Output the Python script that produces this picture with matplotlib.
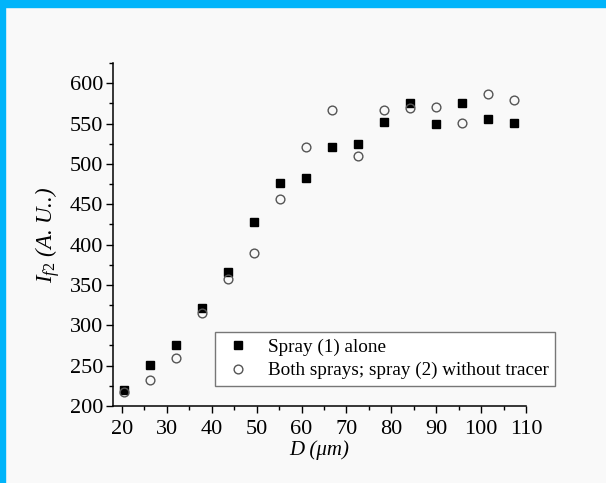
import matplotlib
matplotlib.use("Agg")
from matplotlib import pyplot as plt
from matplotlib.patches import Rectangle
from matplotlib.ticker import MultipleLocator

# droplet diameter (um)
diameter = [20.4, 26.2, 32.0, 37.8, 43.6, 49.4, 55.2, 61.0,
            66.8, 72.6, 78.4, 84.2, 90.0, 95.8, 101.6, 107.4]

# fluorescence intensity, arbitrary units
spray1_alone = [220, 251, 276, 322, 366, 428, 476, 482,
                521, 525, 552, 576, 549, 575, 555, 551]
both_sprays = [217, 232, 259, 315, 357, 390, 456, 521,
               567, 510, 567, 569, 570, 551, 586, 579]

labels = ["Spray (1) alone", "Both sprays; spray (2) without tracer"]

plt.rcParams["font.family"] = ["Liberation Serif", "DejaVu Serif"]
plt.rcParams["mathtext.fontset"] = "custom"
plt.rcParams["mathtext.rm"] = "Liberation Serif"
plt.rcParams["mathtext.it"] = "Liberation Serif:italic"

bg = "#f9f9f9"
fig = plt.figure(figsize=(6.06, 4.83), dpi=100, facecolor=bg)
ax = fig.add_axes([113 / 606, 77 / 483, 413 / 606, 343 / 483], facecolor=bg)

ax.plot(diameter, spray1_alone, "s", color="black", ms=5.8, label=labels[0])
ax.plot(diameter, both_sprays, "o", mfc="none", mec="#555555", mew=1.0,
        ms=6.3, label=labels[1])

ax.set_xlim(18, 110)
ax.set_ylim(200, 625)
ax.xaxis.set_major_locator(MultipleLocator(10))
ax.xaxis.set_minor_locator(MultipleLocator(5))
ax.yaxis.set_major_locator(MultipleLocator(50))
ax.yaxis.set_minor_locator(MultipleLocator(25))
ax.set_xticks(range(20, 111, 10))
ax.tick_params(which="major", direction="out", length=5, width=1,
               labelsize=16, pad=2)
ax.tick_params(axis="x", which="major", pad=5)
ax.tick_params(which="minor", direction="out", length=3, width=1)

for side in ("top", "right"):
    ax.spines[side].set_visible(False)
for side in ("left", "bottom"):
    ax.spines[side].set_linewidth(1.1)

ax.set_xlabel("D (μm)", fontsize=15, style="italic", labelpad=1)
ax.set_ylabel(r"$I_{f2}$ (A. U..)", fontsize=16.5, style="italic", labelpad=6)

leg = ax.legend(loc="upper left", bbox_to_anchor=(215 / 606, 151 / 483),
                bbox_transform=fig.transFigure, fontsize=13.8, frameon=True,
                fancybox=False, edgecolor="#777777", framealpha=1,
                handletextpad=0.7, borderpad=0.35, labelspacing=0.3,
                handlelength=1.7, borderaxespad=0)
leg.get_frame().set_facecolor("white")
leg.get_frame().set_linewidth(1.0)

# cyan frame along the top and left edges
fig.patches.append(Rectangle((0, 1 - 7 / 483), 1, 7 / 483,
                             transform=fig.transFigure, color="#00b4fa",
                             zorder=10))
fig.patches.append(Rectangle((0, 0), 5 / 606, 1,
                             transform=fig.transFigure, color="#00b4fa",
                             zorder=10))

plt.savefig("out.png", dpi=100, facecolor=bg)
